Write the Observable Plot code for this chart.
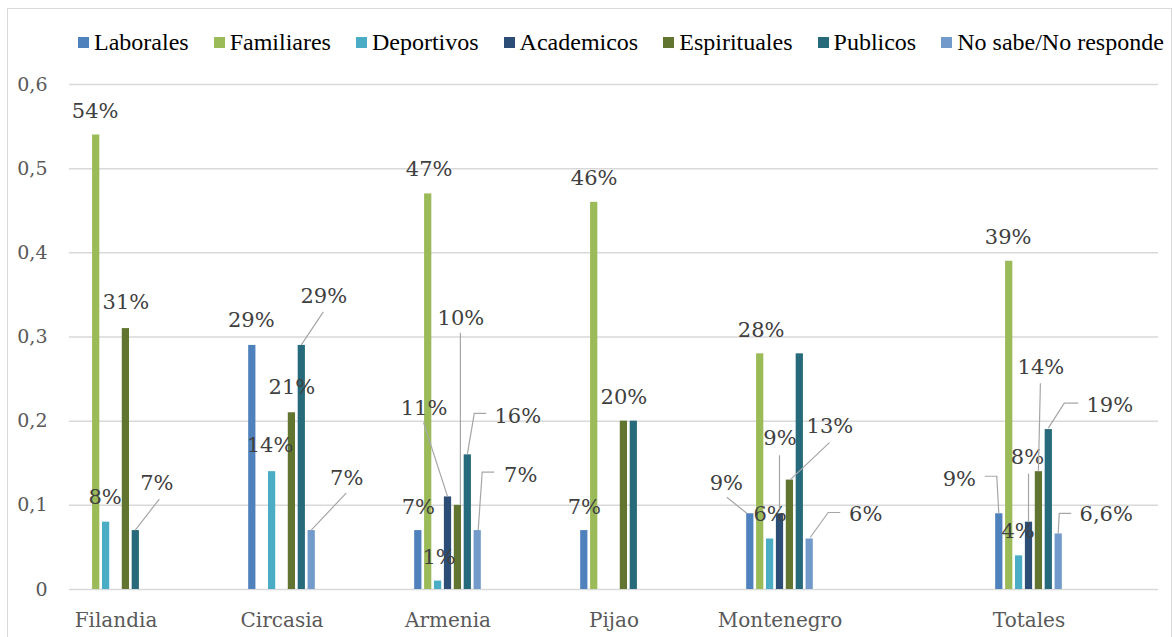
<!DOCTYPE html>
<html><head><meta charset="utf-8">
<script src="https://cdn.jsdelivr.net/npm/d3@7"></script>
<script src="https://cdn.jsdelivr.net/npm/@observablehq/plot@0.6"></script>
<style>
html,body{margin:0;padding:0;background:#fff;}
#wrap{position:relative;width:1174px;height:637px;overflow:hidden;}
#border{position:absolute;left:7px;top:8px;width:1165px;height:660px;border:1px solid #d9d9d9;box-sizing:border-box;}
#legend{position:absolute;left:78px;top:30px;display:flex;font-family:"Liberation Serif",serif;font-size:24px;line-height:24px;color:#000;white-space:nowrap;}
.item{display:flex;align-items:center;margin-right:25px;}
.sw{width:11px;height:11px;margin-right:5px;flex:none;}
#chart{position:absolute;left:0;top:0;}
</style></head><body>
<div id="wrap"><div id="border"></div><div id="chart"></div><div id="legend"></div></div>
<script>
// ---- data ----
const categories = ["Filandia","Circasia","Armenia","Pijao","Montenegro","Totales"];
const series = ["Laborales","Familiares","Deportivos","Academicos","Espirituales","Publicos","No sabe/No responde"];
const colors = ["#4f81bd","#9bbb59","#4bacc6","#2c4d75","#617531","#276a7c","#729aca"];
const laborales    = [0,    0.29, 0.07, 0.07, 0.09, 0.09];
const familiares   = [0.54, 0,    0.47, 0.46, 0.28, 0.39];
const deportivos   = [0.08, 0.14, 0.01, 0,    0.06, 0.04];
const academicos   = [0,    0,    0.11, 0,    0.09, 0.08];
const espirituales = [0.31, 0.21, 0.10, 0.20, 0.13, 0.14];
const publicos     = [0.07, 0.29, 0.16, 0.20, 0.28, 0.19];
const noSabe       = [0,    0.07, 0.07, 0,    0.06, 0.066];
const yTicks = [0, 0.1, 0.2, 0.3, 0.4, 0.5, 0.6];
const yTickLabels = ["0","0,1","0,2","0,3","0,4","0,5","0,6"];

// category slots on the axis (blank slots reproduce the original spacing)
const slots = ["Filandia","_a","Circasia","_b","Armenia","_c","Pijao","_d","Montenegro","_e","_f","Totales","_g"];

// ---- label placement (pixel offsets from the top centre of each bar) ----
const labelPlacement = [
  {c:"Filandia", s:1, dx:-1, dy:-24},
  {c:"Filandia", s:2, dx:-1, dy:-25},
  {c:"Filandia", s:4, dx:0, dy:-26},
  {c:"Filandia", s:5, dx:21, dy:-47, leader:[[0,0],[24,-31]]},
  {c:"Circasia", s:0, dx:-1, dy:-25},
  {c:"Circasia", s:2, dx:-2, dy:-26},
  {c:"Circasia", s:4, dx:0, dy:-25},
  {c:"Circasia", s:5, dx:22, dy:-49, leader:[[0,0],[22,-33]]},
  {c:"Circasia", s:6, dx:35, dy:-52, leader:[[0,0],[35,-37]]},
  {c:"Armenia", s:1, dx:1, dy:-25},
  {c:"Armenia", s:0, dx:0, dy:-23},
  {c:"Armenia", s:2, dx:1, dy:-24},
  {c:"Armenia", s:3, dx:-24, dy:-89, leader:[[0,0],[-24,-74]]},
  {c:"Armenia", s:4, dx:3, dy:-187, leader:[[3,0],[3,-172]]},
  {c:"Armenia", s:5, dx:50, dy:-39, leader:[[0,0],[7,-41],[19,-41]]},
  {c:"Armenia", s:6, dx:43, dy:-55, leader:[[1,0],[5,-58],[17,-58]]},
  {c:"Pijao", s:1, dx:0, dy:-24},
  {c:"Pijao", s:0, dx:0, dy:-23},
  {c:"Pijao", s:4, dx:0, dy:-24},
  {c:"Montenegro", s:1, dx:1, dy:-24},
  {c:"Montenegro", s:0, dx:-24, dy:-30, leader:[[-3,0],[-23,-16]]},
  {c:"Montenegro", s:2, dx:0, dy:-25},
  {c:"Montenegro", s:3, dx:0, dy:-75, leader:[[0,-4],[0,-58]]},
  {c:"Montenegro", s:4, dx:40, dy:-54, leader:[[1,0],[40,-37]]},
  {c:"Montenegro", s:6, dx:56, dy:-25, leader:[[1,-1],[19,-26],[31,-26]]},
  {c:"Totales", s:1, dx:-1, dy:-24},
  {c:"Totales", s:0, dx:-40, dy:-34, leader:[[0,0],[-2,-37],[-14,-37]]},
  {c:"Totales", s:2, dx:-1, dy:-25},
  {c:"Totales", s:3, dx:-1.5, dy:-65, leader:[[0,0],[0,-48]]},
  {c:"Totales", s:4, dx:2, dy:-104, leader:[[0,0],[2,-88]]},
  {c:"Totales", s:5, dx:61, dy:-24, leader:[[0,-1],[16,-26],[30,-26]]},
  {c:"Totales", s:6, dx:47.5, dy:-20, leader:[[0,0],[1,-20],[13,-20]]}
];

// ---- build table ----
const values = [laborales, familiares, deportivos, academicos, espirituales, publicos, noSabe];
const rows = [];
series.forEach((s, si) => categories.forEach((c, ci) => rows.push({category: c, series: s, si, value: values[si][ci]})));
const pct = v => String(Math.round(v * 1000) / 10).replace(".", ",") + "%";

const W = 1174, H = 637, ML = 69, MR = 16, MT = 84, MB = 48;
const STEP = 9.9, BARW = 8;
const bandwidth = (W - ML - MR) / slots.length;
const inset = (bandwidth - BARW) / 2;

const marks = [
  Plot.ruleY(yTicks, {stroke: "#d9d9d9", strokeWidth: 1.5}),
  Plot.axisY({ticks: yTicks, tickFormat: d => yTickLabels[yTicks.indexOf(d)], tickSize: 0, tickPadding: 22,
    fontSize: 19, fill: "#595959", label: null}),
  Plot.axisX({tickFormat: d => d.startsWith("_") ? "" : d, tickSize: 0, tickPadding: 23,
    fontSize: 20, fill: "#595959", label: null})
];
series.forEach((s, si) => {
  marks.push(Plot.barY(rows.filter(r => r.si === si && r.value > 0), {
    x: "category", y: "value", fill: "series", dx: (si - 3) * STEP, insetLeft: inset, insetRight: inset
  }));
});
labelPlacement.forEach(l => {
  const row = rows.find(r => r.category === l.c && r.si === l.s);
  marks.push(Plot.text([row], {
    x: "category", y: "value", text: r => pct(r.value),
    dx: (l.s - 3) * STEP + l.dx, dy: l.dy, fontSize: 21, fill: "#404040", stroke: null
  }));
});

const plot = Plot.plot({
  width: W, height: H, marginLeft: ML, marginRight: MR, marginTop: MT, marginBottom: MB,
  style: {fontFamily: "'DejaVu Serif', serif", background: "transparent", overflow: "visible"},
  x: {domain: slots, padding: 0, axis: null},
  y: {domain: [0, 0.6], axis: null},
  color: {domain: series, range: colors},
  marks
});

// leader lines, positioned through the plot's own scales
const xs = plot.scale("x"), ys = plot.scale("y");
const g = d3.select(plot).append("g").attr("fill", "none").attr("stroke", "#a6a6a6").attr("stroke-width", 1.2);
labelPlacement.filter(l => l.leader).forEach(l => {
  const row = rows.find(r => r.category === l.c && r.si === l.s);
  const cx = xs.apply(row.category) + xs.bandwidth / 2 + (l.s - 3) * STEP;
  const cy = ys.apply(row.value);
  g.append("path").attr("d", "M" + l.leader.map(([a, b]) => [cx + a, cy + b].join(",")).join("L"));
});
document.getElementById("chart").appendChild(plot);

// legend
const leg = document.getElementById("legend");
series.forEach((s, i) => {
  const it = document.createElement("div"); it.className = "item";
  const sw = document.createElement("span"); sw.className = "sw"; sw.style.background = colors[i];
  const tx = document.createElement("span"); tx.textContent = s;
  it.appendChild(sw); it.appendChild(tx); leg.appendChild(it);
});
</script>
</body></html>
